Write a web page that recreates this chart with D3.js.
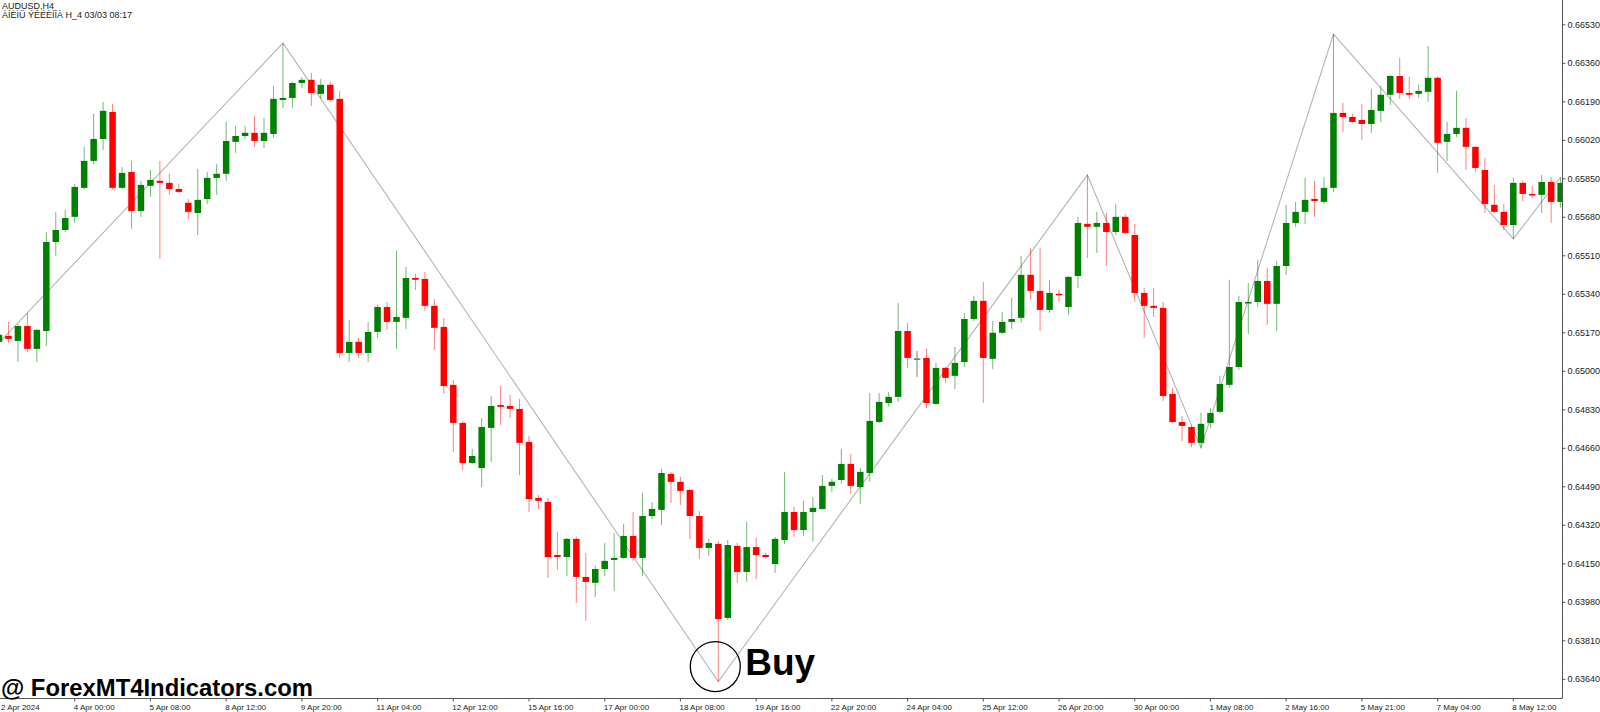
<!DOCTYPE html>
<html>
<head>
<meta charset="utf-8">
<script src="https://cdn.jsdelivr.net/npm/d3@7"></script>
<style>
  html, body { margin: 0; padding: 0; background: #fff; }
  svg { display: block; }
  .axisText { font-family: "Liberation Sans", Arial, sans-serif; fill: #1a1a1a; }
</style>
</head>
<body>
<div class="chart"></div>
<script>
// AUDUSD H4 candles, bar 0 = first visible bar
var opens = [
  0.65130,0.65156,0.65134,0.65200,0.65099,0.65178,0.65571,0.65624,0.65682,0.65810,
  0.65929,0.66026,0.66145,0.65810,0.65880,0.65708,0.65819,0.65841,0.65832,0.65805,
  0.65744,0.65699,0.65761,0.65854,0.65872,0.66013,0.66039,0.66053,0.66017,0.66048,
  0.66198,0.66207,0.66273,0.66287,0.66225,0.66265,0.66203,0.65081,0.65130,0.65081,
  0.65174,0.65284,0.65218,0.65236,0.65412,0.65408,0.65289,0.65196,0.64940,0.64772,
  0.64595,0.64573,0.64750,0.64851,0.64847,0.64834,0.64688,0.64441,0.64423,0.64189,
  0.64180,0.64260,0.64092,0.64066,0.64127,0.64167,0.64176,0.64273,0.64176,0.64361,
  0.64388,0.64547,0.64512,0.64476,0.64361,0.64220,0.64238,0.63911,0.64229,0.64114,
  0.64224,0.64189,0.64149,0.64255,0.64379,0.64299,0.64379,0.64392,0.64494,0.64520,
  0.64591,0.64489,0.64551,0.64776,0.64860,0.64887,0.65178,0.65057,0.65059,0.64856,
  0.65015,0.64980,0.65041,0.65231,0.65311,0.65055,0.65170,0.65218,0.65236,0.65426,
  0.65355,0.65271,0.65342,0.65284,0.65421,0.65651,0.65638,0.65655,0.65615,0.65682,
  0.65602,0.65346,0.65289,0.65280,0.64900,0.64776,0.64754,0.64684,0.64772,0.64821,
  0.64940,0.65019,0.65302,0.65306,0.65399,0.65298,0.65465,0.65655,0.65704,0.65761,
  0.65748,0.65810,0.66141,0.66123,0.66110,0.66092,0.66150,0.66221,0.66304,0.66229,
  0.66225,0.66234,0.66296,0.66013,0.66048,0.66075,0.65991,0.65889,0.65735,0.65704,
  0.65646,0.65832,0.65783,0.65779,0.65836,0.65748
];
var highs = [
  0.65170,0.65218,0.65209,0.65258,0.65187,0.65615,0.65704,0.65713,0.65828,0.65991,
  0.66137,0.66190,0.66181,0.65902,0.65929,0.65841,0.65889,0.65929,0.65872,0.65828,
  0.65761,0.65894,0.65880,0.65916,0.66101,0.66084,0.66084,0.66128,0.66119,0.66260,
  0.66449,0.66278,0.66300,0.66318,0.66291,0.66278,0.66238,0.65227,0.65147,0.65218,
  0.65293,0.65306,0.65532,0.65461,0.65430,0.65439,0.65320,0.65236,0.64962,0.64781,
  0.64657,0.64794,0.64891,0.64935,0.64896,0.64878,0.64715,0.64454,0.64441,0.64291,
  0.64264,0.64269,0.64198,0.64141,0.64242,0.64286,0.64326,0.64379,0.64463,0.64423,
  0.64569,0.64556,0.64534,0.64481,0.64383,0.64260,0.64251,0.64255,0.64242,0.64335,
  0.64264,0.64198,0.64269,0.64556,0.64401,0.64428,0.64445,0.64542,0.64525,0.64657,
  0.64635,0.64573,0.64904,0.64904,0.64909,0.65302,0.65214,0.65090,0.65099,0.65037,
  0.65019,0.65108,0.65258,0.65333,0.65395,0.65222,0.65262,0.65324,0.65510,0.65545,
  0.65545,0.65404,0.65359,0.65421,0.65682,0.65867,0.65704,0.65699,0.65739,0.65695,
  0.65651,0.65368,0.65368,0.65306,0.64927,0.64803,0.64763,0.64816,0.64838,0.64980,
  0.65404,0.65333,0.65390,0.65492,0.65457,0.65487,0.65735,0.65748,0.65854,0.65841,
  0.65858,0.66489,0.66185,0.66137,0.66181,0.66247,0.66260,0.66309,0.66384,0.66300,
  0.66265,0.66437,0.66304,0.66101,0.66238,0.66119,0.65995,0.65942,0.65823,0.65739,
  0.65854,0.65841,0.65819,0.65867,0.65858,0.65858
];
var lows = [
  0.65116,0.65125,0.65041,0.65086,0.65041,0.65112,0.65510,0.65615,0.65655,0.65805,
  0.65916,0.65978,0.65801,0.65805,0.65629,0.65682,0.65770,0.65496,0.65779,0.65788,
  0.65673,0.65602,0.65739,0.65779,0.65841,0.65964,0.66026,0.65991,0.65986,0.66031,
  0.66163,0.66163,0.66251,0.66172,0.66203,0.66190,0.65059,0.65041,0.65059,0.65041,
  0.65147,0.65183,0.65099,0.65187,0.65359,0.65267,0.65094,0.64900,0.64644,0.64564,
  0.64591,0.64489,0.64600,0.64763,0.64794,0.64542,0.64379,0.64392,0.64088,0.64123,
  0.64096,0.63977,0.63898,0.64004,0.64096,0.64030,0.64172,0.64163,0.64096,0.64348,
  0.64322,0.64419,0.64410,0.64260,0.64172,0.64185,0.63630,0.63902,0.64066,0.64070,
  0.64083,0.64176,0.64110,0.64238,0.64269,0.64273,0.64247,0.64388,0.64467,0.64503,
  0.64458,0.64414,0.64512,0.64772,0.64843,0.64865,0.65015,0.64975,0.64838,0.64851,
  0.64949,0.64922,0.65019,0.65222,0.64860,0.65010,0.65165,0.65187,0.65214,0.65320,
  0.65178,0.65258,0.65306,0.65249,0.65368,0.65501,0.65523,0.65465,0.65602,0.65607,
  0.65306,0.65147,0.65240,0.64869,0.64772,0.64692,0.64666,0.64662,0.64750,0.64816,
  0.64927,0.65006,0.65165,0.65284,0.65205,0.65178,0.65426,0.65638,0.65651,0.65682,
  0.65739,0.65792,0.66057,0.66097,0.66022,0.66053,0.66101,0.66176,0.66203,0.66203,
  0.66207,0.66190,0.65876,0.65929,0.66035,0.65889,0.65880,0.65699,0.65699,0.65624,
  0.65585,0.65752,0.65766,0.65699,0.65655,0.65722
];
var closes = [
  0.65161,0.65143,0.65200,0.65099,0.65183,0.65571,0.65624,0.65677,0.65814,0.65929,
  0.66026,0.66150,0.65810,0.65876,0.65708,0.65823,0.65845,0.65832,0.65805,0.65792,
  0.65704,0.65757,0.65854,0.65872,0.66017,0.66039,0.66053,0.66017,0.66053,0.66203,
  0.66207,0.66273,0.66287,0.66229,0.66265,0.66198,0.65081,0.65130,0.65081,0.65174,
  0.65284,0.65218,0.65240,0.65412,0.65404,0.65289,0.65192,0.64935,0.64772,0.64595,
  0.64626,0.64754,0.64847,0.64843,0.64834,0.64684,0.64436,0.64428,0.64180,0.64180,
  0.64260,0.64092,0.64070,0.64127,0.64163,0.64176,0.64273,0.64176,0.64361,0.64392,
  0.64551,0.64512,0.64472,0.64361,0.64220,0.64242,0.63906,0.64233,0.64114,0.64224,
  0.64189,0.64180,0.64260,0.64379,0.64299,0.64379,0.64397,0.64494,0.64512,0.64591,
  0.64494,0.64556,0.64781,0.64865,0.64887,0.65178,0.65059,0.65057,0.64860,0.65015,
  0.64971,0.65037,0.65231,0.65311,0.65059,0.65170,0.65218,0.65231,0.65426,0.65355,
  0.65271,0.65346,0.65337,0.65417,0.65655,0.65638,0.65655,0.65615,0.65682,0.65611,
  0.65346,0.65289,0.65280,0.64891,0.64776,0.64759,0.64684,0.64768,0.64816,0.64944,
  0.65019,0.65306,0.65306,0.65399,0.65298,0.65465,0.65655,0.65704,0.65757,0.65752,
  0.65810,0.66141,0.66123,0.66101,0.66092,0.66154,0.66221,0.66304,0.66229,0.66221,
  0.66238,0.66296,0.66009,0.66048,0.66075,0.65991,0.65898,0.65739,0.65704,0.65646,
  0.65832,0.65783,0.65779,0.65836,0.65748,0.65832
];

// zigzag turning points (bar index, price)
var zzBars   = [-1, 30, 76, 115, 127, 141, 160, 165];
var zzPrices = [0.65082, 0.66449, 0.63630, 0.65867, 0.64662, 0.66489, 0.65585, 0.65858];

var priceTicks = [0.66530,0.66360,0.66190,0.66020,0.65850,0.65680,0.65510,0.65340,0.65170,
                  0.65000,0.64830,0.64660,0.64490,0.64320,0.64150,0.63980,0.63810,0.63640];

var timeBars = [0,8,16,24,32,40,48,56,64,72,80,88,96,104,112,120,128,136,144,152,160];
var timeLabels = ["2 Apr 2024","4 Apr 00:00","5 Apr 08:00","8 Apr 12:00","9 Apr 20:00",
                  "11 Apr 04:00","12 Apr 12:00","15 Apr 16:00","17 Apr 00:00","18 Apr 08:00",
                  "19 Apr 16:00","22 Apr 20:00","24 Apr 04:00","25 Apr 12:00","26 Apr 20:00",
                  "30 Apr 00:00","1 May 08:00","2 May 16:00","5 May 21:00","7 May 04:00",
                  "8 May 12:00"];

var buyBar = 76;

function drawChart(){
    var w = 1600, h = 712;
    var plotRight = 1562.5, plotBottom = 698.5;

    var x = d3.scaleLinear().domain([0,160]).range([-1,1513.3]);
    var y = d3.scaleLinear().domain([0.63640,0.66530]).range([679.3,24.8]);

    var svg = d3.select("div.chart")
              .append("svg")
              .attr("width", w)
              .attr("height", h)
              .attr("viewBox", `0 0 ${w} ${h}`);

    svg.append("rect").attr("width", w).attr("height", h).attr("fill", "#fff");

    svg.append("defs").append("clipPath")
            .attr("id", "plotClip")
        .append("rect")
            .attr("x", 0).attr("y", 0)
            .attr("width", plotRight).attr("height", plotBottom);

    var plot = svg.append("g").attr("clip-path", "url(#plotClip)");

    //zigzag behind the candles
    var zz = d3.range(zzBars.length).map(i => [zzBars[i], zzPrices[i]]);
    plot.append("path")
            .datum(zz)
            .attr("d", d3.line().x(d => x(d[0])).y(d => y(d[1])))
            .attr("fill", "none")
            .attr("stroke", "#b4b4b4")
            .attr("stroke-width", 1.1);

    var bars = d3.range(opens.length).map(function(i){
        return {i: i, o: opens[i], h: highs[i], l: lows[i], c: closes[i]};
    });
    function dir(d){ return d.c > d.o ? "up" : (d.c < d.o ? "down" : "flat"); }
    var bodyColor = {up: "#008000", down: "#ff0000", flat: "#707070"};
    var wickOpacity = {up: 0.55, down: 0.5, flat: 0.9};

    plot.append("g")
        .selectAll("line")
        .data(bars)
        .enter()
        .append("line")
            .attr("x1", d => x(d.i)).attr("x2", d => x(d.i))
            .attr("y1", d => y(d.h)).attr("y2", d => y(d.l))
            .attr("stroke", d => bodyColor[dir(d)])
            .attr("stroke-opacity", d => wickOpacity[dir(d)])
            .attr("stroke-width", 1);

    var bodyW = 6.5;
    plot.append("g")
        .selectAll("rect")
        .data(bars)
        .enter()
        .append("rect")
            .attr("x", d => x(d.i) - bodyW/2)
            .attr("width", bodyW)
            .attr("y", d => y(Math.max(d.o, d.c)))
            .attr("height", d => Math.max(1.5, y(Math.min(d.o, d.c)) - y(Math.max(d.o, d.c))))
            .attr("fill", d => bodyColor[dir(d)]);

    //axes
    svg.append("line")
        .attr("x1", plotRight).attr("x2", plotRight)
        .attr("y1", 0).attr("y2", plotBottom)
        .attr("stroke", "#555");
    svg.append("line")
        .attr("x1", 0).attr("x2", plotRight)
        .attr("y1", plotBottom).attr("y2", plotBottom)
        .attr("stroke", "#555");

    var pt = svg.append("g").selectAll("g")
                .data(priceTicks)
                .enter()
                .append("g")
                .attr("transform", d => `translate(${plotRight},${y(d)})`);
    pt.append("line").attr("x1", 0).attr("x2", 3).attr("stroke", "#555");
    pt.append("text")
        .attr("class", "axisText")
        .attr("x", 5)
        .attr("dy", "0.35em")
        .style("font-size", "9px")
        .text(d => d3.format(".5f")(d));

    var tt = svg.append("g").selectAll("g")
                .data(timeBars)
                .enter()
                .append("g")
                .attr("transform", d => `translate(${x(d)},${plotBottom})`);
    tt.append("line").attr("y1", 0).attr("y2", 3).attr("stroke", "#555");
    tt.append("text")
        .attr("class", "axisText")
        .attr("x", (d, i) => i == 0 ? 2 : -1)
        .attr("y", 11.5)
        .style("font-size", "8px")
        .text((d, i) => timeLabels[i]);

    //header
    svg.append("text")
        .attr("class", "axisText")
        .attr("x", 2).attr("y", 9)
        .style("font-size", "9px")
        .text("AUDUSD,H4");
    svg.append("text")
        .attr("class", "axisText")
        .attr("x", 2).attr("y", 18)
        .style("font-size", "9px")
        .text("ÀÍÈÌÜ ÝÊÉÈÍÎÀ H_4 03/03 08:17");

    //buy marker
    var bx = x(buyBar), by = y(lows[buyBar]);
    svg.append("circle")
        .attr("cx", bx - 3).attr("cy", by - 15)
        .attr("r", 25)
        .attr("fill", "none")
        .attr("stroke", "#000")
        .attr("stroke-width", 1.3);
    svg.append("text")
        .attr("x", bx + 27).attr("y", by - 6.5)
        .style("font-family", "'Liberation Sans', Arial, sans-serif")
        .style("font-weight", "bold")
        .style("font-size", "37px")
        .attr("fill", "#000")
        .text("Buy");

    svg.append("text")
        .attr("x", 1).attr("y", 696)
        .attr("textLength", 312)
        .attr("lengthAdjust", "spacingAndGlyphs")
        .style("font-family", "'Liberation Sans', Arial, sans-serif")
        .style("font-weight", "bold")
        .style("font-size", "24px")
        .attr("fill", "#000")
        .text("@ ForexMT4Indicators.com");
}

drawChart();
</script>
</body>
</html>
